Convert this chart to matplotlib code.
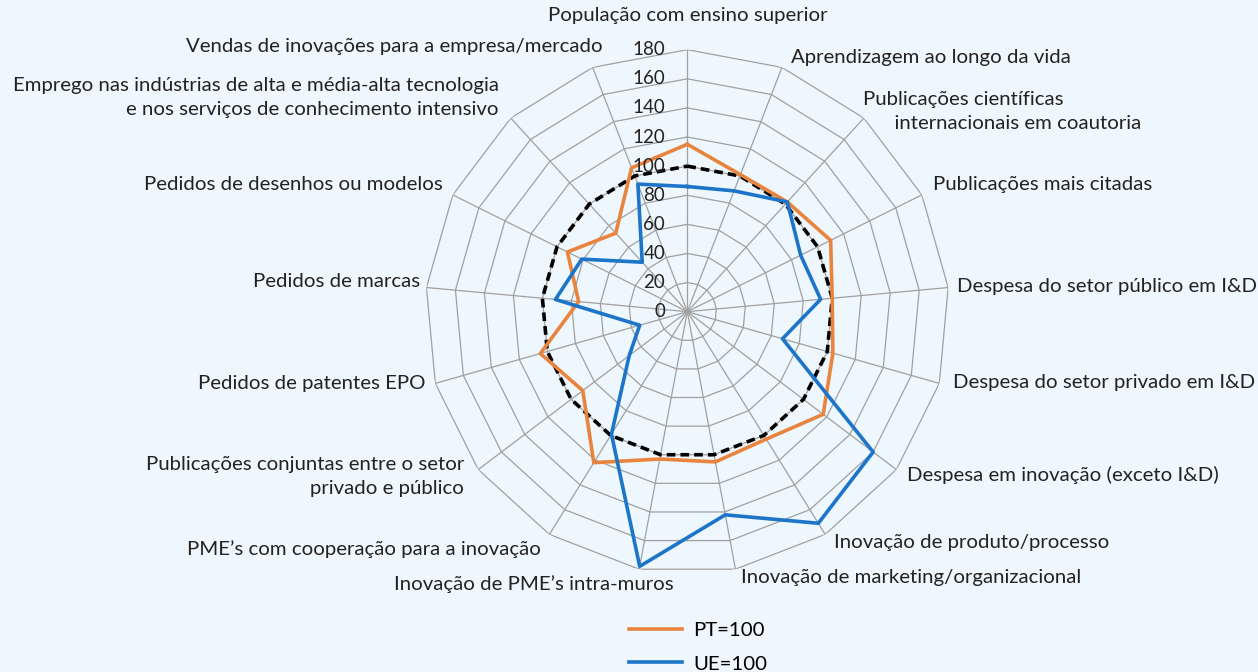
#!/usr/bin/env python3
"""Radar chart: innovation indicators, PT=100 vs UE=100 (17 axes)."""

import matplotlib as mpl
import matplotlib.pyplot as plt
import numpy as np

CATEGORIES = [
    "População com ensino superior",
    "Aprendizagem ao longo da vida",
    "Publicações científicas\n      internacionais em coautoria",
    "Publicações mais citadas",
    "Despesa do setor público em I&D",
    "Despesa do setor privado em I&D",
    "Despesa em inovação (exceto I&D)",
    "Inovação de produto/processo",
    "Inovação de marketing/organizacional",
    "Inovação de PME’s intra-muros",
    "PME’s com cooperação para a inovação",
    "Publicações conjuntas entre o setor\nprivado e público",
    "Pedidos de patentes EPO",
    "Pedidos de marcas",
    "Pedidos de desenhos ou modelos",
    "Emprego nas indústrias de alta e média-alta tecnologia\ne nos serviços de conhecimento intensivo",
    "Vendas de inovações para a empresa/mercado",
]
PT = [115, 101, 102, 110, 100, 104, 117, 103, 105, 103, 122, 90, 105, 75, 92, 73, 106]
UE = [86, 89, 102, 87, 92, 68, 160, 171, 142, 178, 99, 50, 34, 91, 81, 46, 94]
BASE = [100, 100, 100, 100, 100, 100, 100, 100, 100, 100, 100, 100, 100, 100, 100, 100, 100]
TICKS = [0, 20, 40, 60, 80, 100, 120, 140, 160, 180]
SERIES_LABELS = ["PT=100", "UE=100"]

# label offsets from the outer vertex, in pixels (dx right, dy up), alignment
LABEL_POS = [
    (0, 34, "center"), (9, 10, "left"), (-1, 7, "left"), (11, 10, "left"),
    (9, 1, "left"), (14, 1, "left"), (11, -5, "left"), (9, -8, "left"),
    (6, -8, "left"), (34, -15, "right"), (-9, -15, "right"), (-14, -7, "right"),
    (-10, 0, "right"), (-6, 6, "right"), (-10, 10, "right"), (-12, 21, "right"),
    (10, 21, "right"),
]

C_BG = "#EEF7FD"
C_GRID = "#A0A0A0"
C_TEXT = "#222222"
C_ORANGE = "#E9843F"
C_BLUE = "#1C75C8"
FS = 14.7

mpl.rcParams.update({"font.family": ["Lato", "DejaVu Sans"], "font.size": FS})

n = len(CATEGORIES)
theta = np.linspace(0, 2 * np.pi, n, endpoint=False)
theta_c = np.append(theta, theta[0])
rmax = TICKS[-1]

fig = plt.figure(figsize=(12.58, 6.72), dpi=100, facecolor=C_BG)
ax = fig.add_axes([0.3381, 0.1463, 0.4165, 0.7798], projection="polar")
ax.set_facecolor("none")
ax.set_theta_zero_location("N")
ax.set_theta_direction(-1)
ax.set_ylim(0, rmax)
ax.grid(False)
ax.spines["polar"].set_visible(False)
ax.set_xticks([])
ax.set_yticks([])

# polygon web
for lvl in TICKS[1:]:
    ax.plot(theta_c, np.full(n + 1, lvl), color=C_GRID, lw=0.9, zorder=1)
for t in theta:
    ax.plot([t, t], [0, rmax], color=C_GRID, lw=0.9, zorder=1)

for lvl in TICKS:
    ax.annotate(str(lvl), (0, lvl), xytext=(-16, 0), textcoords="offset points",
                ha="right", va="center", color=C_TEXT, fontsize=13.5, zorder=5)

ax.plot(theta_c, np.append(BASE, BASE[0]), color="black", lw=2.6,
        linestyle=(0, (2.4, 1.4)), zorder=3)
h_pt, = ax.plot(theta_c, np.append(PT, PT[0]), color=C_ORANGE, lw=2.6,
                label=SERIES_LABELS[0], zorder=4)
h_ue, = ax.plot(theta_c, np.append(UE, UE[0]), color=C_BLUE, lw=2.6,
                label=SERIES_LABELS[1], zorder=4)

for t, label, (dx, dy, ha) in zip(theta, CATEGORIES, LABEL_POS):
    ax.annotate(label, (t, rmax), xytext=(dx * 0.72, dy * 0.72),
                textcoords="offset points", ha=ha, va="center",
                multialignment="left" if ha == "left" else "right",
                color=C_TEXT, fontsize=FS, linespacing=1.5,
                annotation_clip=False)

fig.legend(handles=[h_pt, h_ue], loc="upper left",
           bbox_to_anchor=(629 / 1258, 1 - 622 / 672), frameon=False,
           fontsize=FS, handlelength=2.6, handletextpad=0.55,
           labelspacing=0.78, borderpad=0, borderaxespad=0)

fig.savefig("out.png", dpi=100, facecolor=C_BG)
